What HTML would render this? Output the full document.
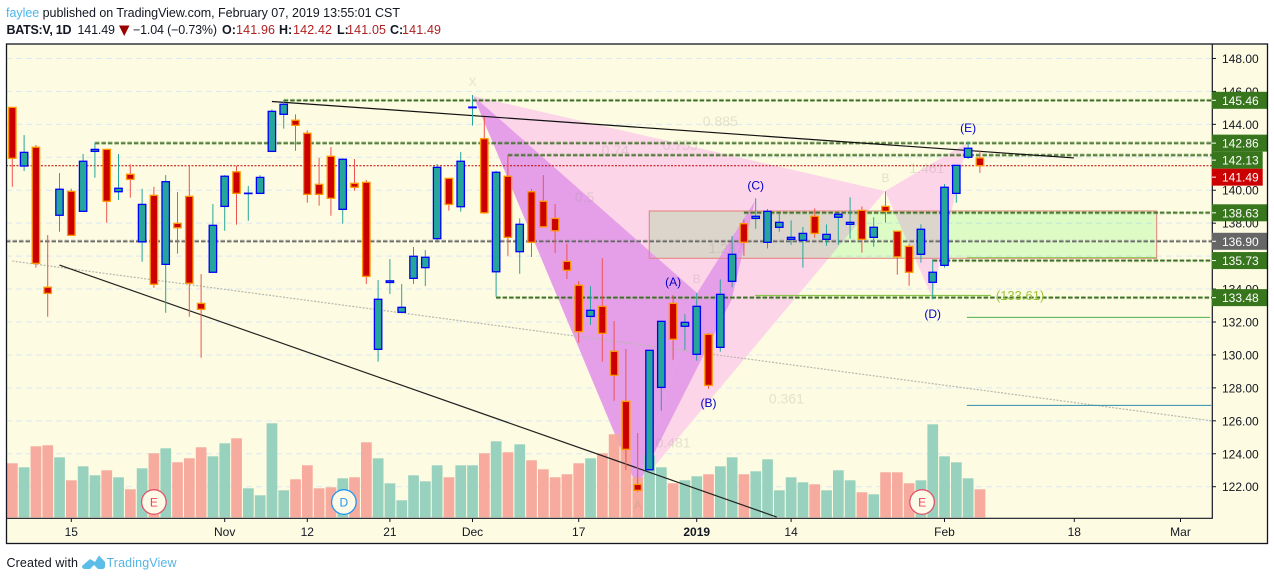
<!DOCTYPE html>
<html lang="en">
<head>
<meta charset="utf-8">
<title>BATS:V 1D chart</title>
<style>
html,body{margin:0;padding:0;background:#fff;}
svg{display:block;font-family:"Liberation Sans",Arial,sans-serif;}
.head{font-size:12.5px;fill:#131722;}
.axis{font-size:12px;fill:#131722;}
.pale{font-size:14px;fill:#8a8a80;fill-opacity:.22;text-anchor:middle;}
.pale-letter{font-size:12px;}
.wave{font-size:12px;fill:#0000c8;text-anchor:middle;}
</style>
</head>
<body>
<svg id="chart" width="1274" height="580" viewBox="0 0 1274 580" xmlns="http://www.w3.org/2000/svg">
  <defs><clipPath id="pane-clip"><rect x="6" y="44" width="1206" height="474"/></clipPath></defs>
  <rect x="0" y="0" width="1274" height="580" fill="#ffffff"/>
  <g>
    <text class="head" x="6" y="17" textLength="394" lengthAdjust="spacing"><tspan fill="#4db6e8">faylee</tspan> published on TradingView.com, February 07, 2019 13:55:01 CST</text>
  </g>
  <g id="legend">
    <text class="head" x="6.5" y="34" font-weight="bold" textLength="65" lengthAdjust="spacing">BATS:V, 1D</text>
    <text class="head" x="77.5" y="34" textLength="37.5" lengthAdjust="spacing">141.49</text>
    <polygon points="119,25.5 129.5,25.5 124.2,36" fill="#990000"/>
    <text class="head" x="133" y="34" textLength="84" lengthAdjust="spacing">−1.04 (−0.73%)</text>
    <text class="head" x="222" y="34" font-weight="bold">O:</text>
    <text class="head" x="236" y="34" style="fill:#b02020" textLength="39" lengthAdjust="spacing">141.96</text>
    <text class="head" x="279" y="34" font-weight="bold">H:</text>
    <text class="head" x="293" y="34" style="fill:#b02020" textLength="39" lengthAdjust="spacing">142.42</text>
    <text class="head" x="337" y="34" font-weight="bold">L:</text>
    <text class="head" x="347" y="34" style="fill:#b02020" textLength="39" lengthAdjust="spacing">141.05</text>
    <text class="head" x="390" y="34" font-weight="bold">C:</text>
    <text class="head" x="402" y="34" style="fill:#b02020" textLength="39" lengthAdjust="spacing">141.49</text>
  </g>
  <rect x="6.5" y="44" width="1261" height="499.5" fill="#fdfbe1"/>
  <g id="plot" clip-path="url(#pane-clip)">
    <rect x="6" y="44" width="1206" height="474" fill="#fdfbe1"/>
  </g>
  <g id="axes"></g>
  <rect x="6.5" y="44" width="1261" height="499.5" fill="none" stroke="#131722" stroke-width="1.3"/>
  <g>
    <text class="head" x="6.5" y="567" textLength="71.5" lengthAdjust="spacing">Created with</text>
    <path d="M82 566 L90 559 L95 562 L99 555.5 L105 562 L105 566 Q105 569 102 569 L98 569 L94 565 L90 569 L85 569 Q82 569 82 566 Z" fill="#5cbde9"/>
    <text x="106.5" y="567" font-size="12.5" fill="#55b4e6" textLength="70" lengthAdjust="spacing">TradingView</text>
  </g>
</svg>
<script>
const opens = [145.03,141.47,142.61,134.11,138.48,139.93,138.72,142.36,142.48,139.91,140.97,136.87,139.69,135.50,137.99,139.63,133.13,135.02,139.02,141.12,139.80,139.81,142.36,144.61,144.25,143.46,140.36,142.06,138.84,140.42,140.48,130.34,134.40,132.59,134.65,135.30,137.06,140.72,139.00,145.01,143.13,135.05,140.85,136.27,139.91,139.33,138.29,135.68,134.23,132.34,132.95,130.22,127.18,122.14,123.03,128.03,133.13,131.74,130.04,131.25,130.46,134.47,137.97,138.29,136.84,137.75,137.02,136.96,138.42,137.02,138.36,137.93,138.78,137.14,139.02,137.51,136.59,136.11,134.41,135.44,139.81,142.00,141.96];
const highs = [145.03,143.35,142.75,137.28,141.05,140.09,142.20,142.89,142.48,142.20,141.57,140.09,140.21,140.92,139.89,141.49,134.91,139.16,140.92,141.49,140.26,140.92,144.91,145.48,144.61,143.64,141.96,142.62,141.94,141.90,140.62,134.55,135.82,134.31,136.55,136.37,141.59,140.72,142.32,145.78,144.43,141.17,142.14,138.29,140.07,140.92,139.16,136.75,134.49,134.18,135.88,132.06,130.36,125.26,130.28,132.04,133.64,132.48,133.76,131.33,134.59,137.22,138.23,139.51,138.86,138.60,138.17,137.77,138.90,137.93,138.54,139.57,139.02,138.36,139.93,137.51,136.72,137.93,135.81,140.38,141.51,142.97,142.42];
const lows = [140.21,141.17,135.30,132.32,137.48,137.26,138.72,140.76,138.03,139.41,139.55,135.66,134.08,132.56,136.15,132.32,129.83,135.02,137.54,137.91,138.15,139.81,142.36,143.74,142.40,139.24,139.06,138.45,137.97,139.97,134.31,129.59,133.70,132.59,134.31,134.18,136.92,138.76,138.70,143.92,138.57,133.53,136.02,134.93,135.95,137.78,136.19,134.61,130.74,131.82,129.59,127.22,123.01,121.68,123.03,126.61,129.71,130.30,129.65,127.95,130.20,134.11,136.02,137.66,136.47,137.48,136.69,135.30,137.12,136.63,136.69,137.06,136.21,136.57,138.03,134.87,134.20,135.60,133.38,135.30,139.24,141.90,141.05];
const closes = [141.94,142.30,135.56,133.74,140.06,137.26,141.76,142.48,139.33,140.12,140.66,139.14,134.29,140.52,137.72,134.35,132.77,137.87,140.85,139.81,139.82,140.78,144.79,145.22,143.94,139.75,139.75,139.51,141.88,140.18,134.77,133.38,134.50,132.89,135.99,135.93,141.39,139.14,141.76,145.05,138.63,141.09,137.14,137.93,136.84,137.78,137.54,135.14,131.41,132.71,131.31,128.76,124.27,121.78,130.28,132.04,130.95,131.98,132.95,128.15,133.68,136.11,136.84,138.42,138.72,138.05,137.14,137.38,137.38,137.32,138.54,138.05,137.02,137.75,138.72,135.96,135.02,137.63,135.02,140.18,141.51,142.55,141.49];
const volumes = [5.4,5.0,7.1,7.2,6.0,3.7,5.1,4.2,4.7,4.0,2.8,4.9,6.4,6.9,5.5,5.9,7.0,6.1,7.4,7.9,2.9,2.2,9.4,2.7,3.8,5.2,2.9,3.0,3.9,4.0,7.5,5.9,3.4,1.7,4.2,3.6,5.2,4.0,5.2,5.2,6.4,7.6,6.5,7.3,5.7,4.8,4.0,4.3,5.4,5.9,6.4,8.3,11.7,4.0,6.2,5.0,3.4,3.7,4.1,4.3,5.1,6.0,4.3,4.6,5.8,2.7,4.0,3.5,3.3,2.7,4.7,3.7,2.5,2.3,4.5,4.5,3.4,3.7,9.3,6.1,5.5,3.9,2.8];

const priceTicks = [122,124,126,128,130,132,134,136,138,140,142,144,146,148];
const timeTickBars = [5,18,25,32,39,48,58,66,79,90,99];
const timeTickLabels = ['15','Nov','12','21','Dec','17','2019','14','Feb','18','Mar'];

const greenLevels = [145.46,142.86,142.13,138.63,135.73,133.48];
const greenLevelStartBars = [23,7,42,62,78,41];
const greyLevel = 136.90;

const patternX = [39.07,145.72];
const patternA = [52.94,121.98];
const patternB = [58.03,133.76];
const patternC = [62.94,139.35];
const patternCInner = [60.95,133.34];
const patternB2 = [73.96,139.95];
const patternD = [77.94,133.52];
const patternE = [80.9,142.87];

const upperTrend = [[22,145.39],[89.97,141.96]];
const lowerTrend = [[4,135.46],[64.78,120.16]];
const dottedTrend = [[0,135.7],[101.65,126.0]];
const targetZone = [53.98,96.98,138.74,135.87];
const zoneBaseline = [[80.9,135.91],[96.98,135.91]];
const targetLine = [[62.94,133.61],[82.93,133.61]];
const fibLineUpper = [[80.9,132.28],[101.5,132.28]];
const fibLineLower = [[80.9,126.94],[101.6,126.94]];

const paleLabels = ['X','0.885','0.74','0.755','0.5','1.287','B','A','0.481','0.361','B','1.461'];
const paleLabelBars = [39,60,51.1,56.6,48.5,60.5,58,53,56,65.6,74,77.5];
const paleLabelPrices = [146.33,143.9,142.14,142.44,139.3,136.19,134.37,120.64,124.37,127.06,140.5,141.05];
const waveLabels = ['(A)','(B)','(C)','(D)','(E)'];
const waveLabelBars = [56,59,63,78,81];
const waveLabelPrices = [134.2,126.84,140.04,132.24,143.53];
const eventLabels = ['E','D','E'];
const eventBars = [12,28.1,77.1];

const NS = 'http://www.w3.org/2000/svg';
const plot = document.getElementById('plot');
const axes = document.getElementById('axes');

function xAt(bar){ return 12.3 + bar * 11.8; }
function yAt(price){ return 486.7 - (price - 122) * 16.47; }
function volHeight(v){ return v * 10; }
const volBase = 517.3;
const paneLeft = 6;
const paneRight = 1212;
const paneBottom = 518;

function svgEl(tag, parent, attrs){
  const el = document.createElementNS(NS, tag);
  for (const k in attrs) el.setAttribute(k, attrs[k]);
  parent.appendChild(el);
  return el;
}
function pts(list){ return list.map(function(p){ return xAt(p[0]).toFixed(1) + ',' + yAt(p[1]).toFixed(1); }).join(' '); }

/* grid */
priceTicks.forEach(function(p){
  const el = svgEl('line', plot, {x1:paneLeft, x2:paneRight, y1:yAt(p), y2:yAt(p), stroke:'#dce8f4', 'stroke-width':1, 'stroke-dasharray':'6 4'});
  
  
});

/* harmonic pattern fills */
let pinkA = svgEl('polygon', plot, {points:pts([patternX,patternA,patternB2]), fill:'#fdd5e8'});


let pinkB = svgEl('polygon', plot, {points:pts([patternB2,patternD,patternE]), fill:'#fdd5e8'});



/* target zone */
const zone = svgEl('rect', plot, {x:xAt(targetZone[0]), y:yAt(targetZone[2]), width:xAt(targetZone[1])-xAt(targetZone[0]), height:yAt(targetZone[3])-yAt(targetZone[2]), fill:'#deffe0', style:'mix-blend-mode:multiply'});



let purpleA = svgEl('polygon', plot, {points:pts([patternX,patternA,patternB]), fill:'#e59fe9'});


let purpleB = svgEl('polygon', plot, {points:pts([patternA,patternB,patternC,patternCInner]), fill:'#e59fe9'});



const zoneEdge = svgEl('rect', plot, {x:xAt(targetZone[0]), y:yAt(targetZone[2]), width:xAt(targetZone[1])-xAt(targetZone[0]), height:yAt(targetZone[3])-yAt(targetZone[2]), fill:'none', stroke:'#e2807a', 'stroke-width':1});



/* volume */
volumes.forEach(function(v,i){
  const h = volHeight(v);
  const up = closes[i] >= opens[i];
  const el = svgEl('rect', plot, {x:xAt(i)-5.3, y:volBase-h, width:10.7, height:h, fill: up ? '#92d0bc' : '#f6a79a', 'fill-opacity':.95});
  
  
});

/* levels */
function drawLevel(price, startBar, wide, thin){
  const x1 = Math.max(paneLeft, xAt(startBar));
  const a = svgEl('line', plot, {x1:x1, x2:paneRight, y1:yAt(price), y2:yAt(price), stroke:wide, 'stroke-width':3, 'stroke-opacity':.6, 'stroke-dasharray':'4.5 2'});
  
  
  const b = svgEl('line', plot, {x1:x1, x2:paneRight, y1:yAt(price), y2:yAt(price), stroke:thin, 'stroke-width':1, 'stroke-dasharray':'4.5 2'});
  
  
}
greenLevels.forEach(function(p,i){ drawLevel(p, greenLevelStartBars[i], '#4f9130', '#3a5a2a'); });
drawLevel(greyLevel, -1, '#8a8a8a', '#555555');

const lastLine = svgEl('line', plot, {x1:paneLeft, x2:paneRight, y1:yAt(closes[closes.length-1]), y2:yAt(closes[closes.length-1]), stroke:'#c00000', 'stroke-width':1, 'stroke-dasharray':'2 1.5'});



/* trend and fib lines */
function drawSegment(seg, stroke, width, dash, name){
  const el = svgEl('line', plot, {x1:xAt(seg[0][0]), y1:yAt(seg[0][1]), x2:xAt(seg[1][0]), y2:yAt(seg[1][1]), stroke:stroke, 'stroke-width':width});
  if (dash) el.setAttribute('stroke-dasharray', dash);
  
  
}
drawSegment(dottedTrend, '#b8b8b0', 1.2, '2 1.5', 'dotted-trend-line');
drawSegment(upperTrend, '#111111', 1.2, null, 'upper-trend-line');
drawSegment(lowerTrend, '#222222', 1.2, null, 'lower-trend-line');
drawSegment(zoneBaseline, '#8bc34a', 1, null, 'zone-base-line');
drawSegment(targetLine, '#8bc34a', 1.2, null, 'target-line');
drawSegment(fibLineUpper, '#4caf50', 1, null, 'fib-line-132');
drawSegment(fibLineLower, '#2e8bb0', 1, null, 'fib-line-127');

const targetText = svgEl('text', plot, {x:xAt(targetLine[1][0])+5, y:yAt(targetLine[0][1])+4.5, 'font-size':13, fill:'#9bc53d'});


targetText.textContent = '(' + targetLine[0][1].toFixed(2) + ')';

/* pale pattern labels */
paleLabels.forEach(function(t,i){
  const el = svgEl('text', plot, {class: t.length === 1 ? 'pale pale-letter' : 'pale', x:xAt(paleLabelBars[i]), y:yAt(paleLabelPrices[i])});
  
  
  el.textContent = t;
});

/* candles */
opens.forEach(function(o,i){
  const c = closes[i];
  const up = c >= o;
  const cx = xAt(i);
  const wick = svgEl('line', plot, {x1:cx, x2:cx, y1:yAt(highs[i]), y2:yAt(lows[i]), stroke: up ? '#26a69a' : '#ef5350', 'stroke-width':1});
  
  
  const top = yAt(Math.max(o,c));
  const h = Math.abs(yAt(o)-yAt(c));
  const body = svgEl('rect', plot, {x:cx-3.7, y:top, width:7.4, height:Math.max(h,.4), fill: up ? '#26a69a' : '#cc0000', stroke: up ? '#0000ff' : '#ff9800', 'stroke-width':1.3});
  
  
});

/* wave labels */
waveLabels.forEach(function(t,i){
  const el = svgEl('text', plot, {class:'wave', x:xAt(waveLabelBars[i]), y:yAt(waveLabelPrices[i])});
  
  
  el.textContent = t;
});

/* event badges */
eventLabels.forEach(function(t,i){
  const cx = xAt(eventBars[i]);
  const col = t === 'D' ? '#2196f3' : '#e2536b';
  const ring = svgEl('circle', plot, {cx:cx, cy:502, r:12.3, fill:'#fdfbe8', stroke:col, 'stroke-width':1.3});
  
  
  const tx = svgEl('text', plot, {x:cx, y:506.5, 'text-anchor':'middle', 'font-size':12, fill: t === 'D' ? '#2196f3' : '#f04060'});
  
  
  tx.textContent = t;
});

/* axes */
const yAxisLine = svgEl('line', axes, {x1:paneRight+.3, x2:paneRight+.3, y1:44, y2:paneBottom+.5, stroke:'#131722', 'stroke-width':1.2});


const xAxisLine = svgEl('line', axes, {x1:paneLeft, x2:paneRight+.8, y1:paneBottom+.3, y2:paneBottom+.3, stroke:'#131722', 'stroke-width':1.2});



priceTicks.forEach(function(p){
  const y = yAt(p);
  const t = svgEl('line', axes, {x1:paneRight, x2:paneRight+4, y1:y, y2:y, stroke:'#131722', 'stroke-width':1});
  
  
  const l = svgEl('text', axes, {class:'axis', x:1222, y:y+4.5});
  
  
  l.textContent = p.toFixed(2);
});

timeTickBars.forEach(function(b,i){
  const x = xAt(b);
  const t = svgEl('line', axes, {x1:x, x2:x, y1:paneBottom, y2:paneBottom+4, stroke:'#131722', 'stroke-width':1});
  
  
  const l = svgEl('text', axes, {class:'axis', x:x, y:536, 'text-anchor':'middle', 'font-weight': timeTickLabels[i] === '2019' ? 'bold' : 'normal'});
  
  
  l.textContent = timeTickLabels[i];
});

/* price tags, pushed down if they would overlap the previous one */
const lastClose = closes[closes.length-1];
const tagPrices = greenLevels.concat([lastClose, greyLevel]).sort(function(a,b){ return b-a; });
let prevBottom = 0;
tagPrices.forEach(function(p){
  const natural = yAt(p) - 8.5;
  const top = Math.max(natural, prevBottom);
  const shifted = top > natural + .5;
  prevBottom = top + 17;
  const fill = p === lastClose ? '#cc0000' : (p === greyLevel ? '#666666' : '#38761d');
  const bg = svgEl('rect', axes, {x:paneRight, y:top, width: shifted ? 50.7 : 55.3, height:17, fill:fill});
  
  
  const tick = svgEl('line', axes, {x1:paneRight, x2:paneRight+4, y1:top+8.5, y2:top+8.5, stroke:'#ffffff', 'stroke-width':1});
  
  
  const tx = svgEl('text', axes, {x:1222, y:top+13, 'font-size':12, fill:'#ffffff'});
  
  
  tx.textContent = p.toFixed(2);
});
</script>
</body>
</html>
